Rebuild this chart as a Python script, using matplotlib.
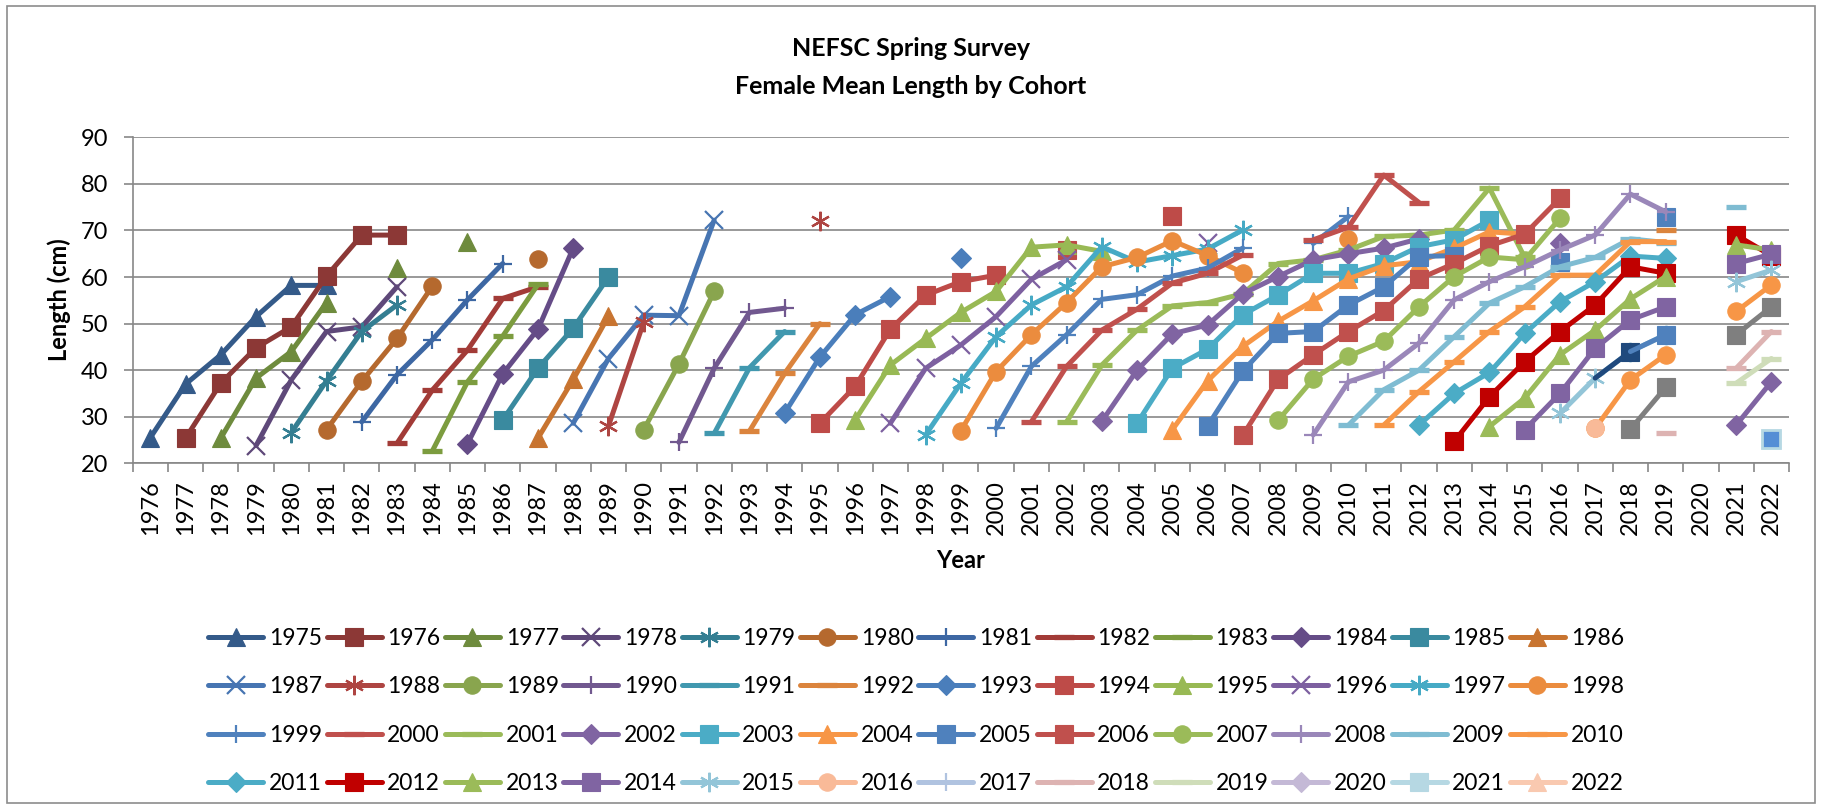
import numpy as np
import matplotlib
matplotlib.use("Agg")
import matplotlib.pyplot as plt
from matplotlib.lines import Line2D
from matplotlib.patches import Rectangle

plt.rcParams['font.family'] = ['Lato', 'DejaVu Sans']

years = list(range(1976, 2023))
cohorts = list(range(1975, 2023))

# mean length (cm) by survey year, one dict per cohort
c1975 = {1976: 25.5, 1977: 37.0, 1978: 43.3, 1979: 51.5, 1980: 58.2, 1981: 58.2}
c1976 = {1977: 25.4, 1978: 37.2, 1979: 44.8, 1980: 49.3, 1981: 60.2, 1982: 69.0, 1983: 69.0}
c1977 = {1978: 25.4, 1979: 38.3, 1980: 44.0, 1981: 54.5, 1983: 61.9, 1985: 67.6}
c1978 = {1979: 23.8, 1980: 37.9, 1981: 48.3, 1982: 49.3, 1983: 57.9}
c1979 = {1980: 26.6, 1981: 37.7, 1982: 48.3, 1983: 54.0}
c1980 = {1981: 27.2, 1982: 37.6, 1983: 46.8, 1984: 58.0, 1987: 63.9}
c1981 = {1982: 28.9, 1983: 39.0, 1984: 46.5, 1985: 55.1, 1986: 62.9}
c1982 = {1983: 24.3, 1984: 35.7, 1985: 44.3, 1986: 55.4, 1987: 57.9}
c1983 = {1984: 22.6, 1985: 37.5, 1986: 47.3, 1987: 58.4}
c1984 = {1985: 24.2, 1986: 39.2, 1987: 48.8, 1988: 66.2}
c1985 = {1986: 29.3, 1987: 40.4, 1988: 49.0, 1989: 60.0}
c1986 = {1987: 25.4, 1988: 38.0, 1989: 51.6}
c1987 = {1988: 28.6, 1989: 42.5, 1990: 51.8, 1991: 51.7, 1992: 72.2}
c1988 = {1989: 28.0, 1990: 50.3, 1995: 72.0}
c1989 = {1990: 27.2, 1991: 41.3, 1992: 56.9}
c1990 = {1991: 24.5, 1992: 40.4, 1993: 52.4, 1994: 53.3}
c1991 = {1992: 26.4, 1993: 40.5, 1994: 48.3}
c1992 = {1993: 26.9, 1994: 39.3, 1995: 50.0, 2019: 70.0}
c1993 = {1994: 30.8, 1995: 42.8, 1996: 51.9, 1997: 55.8, 1999: 64.0}
c1994 = {1995: 28.6, 1996: 36.5, 1997: 48.8, 1998: 56.1, 1999: 59.0, 2000: 60.4,
         2002: 65.8, 2005: 73.0}
c1995 = {1996: 29.3, 1997: 41.1, 1998: 46.8, 1999: 52.4, 2000: 56.9, 2001: 66.4,
         2002: 66.9, 2003: 65.5}
c1996 = {1997: 28.6, 1998: 40.4, 1999: 45.4, 2000: 51.5, 2001: 59.5, 2002: 63.7, 2006: 67.2}
c1997 = {1998: 26.1, 1999: 37.2, 2000: 47.2, 2001: 54.0, 2002: 57.9, 2003: 66.5,
         2004: 63.2, 2005: 64.6, 2006: 66.0, 2007: 70.1}
c1998 = {1999: 27.0, 2000: 39.7, 2001: 47.6, 2002: 54.5, 2003: 62.2, 2004: 64.2,
         2005: 67.8, 2006: 64.6, 2007: 60.9, 2010: 68.1}
c1999 = {2000: 27.5, 2001: 40.8, 2002: 47.6, 2003: 55.2, 2004: 56.2, 2005: 60.2,
         2006: 61.9, 2007: 66.2, 2009: 67.2, 2010: 73.0}
c2000 = {2001: 28.9, 2002: 40.8, 2003: 48.6, 2004: 53.1, 2005: 58.7, 2006: 60.8,
         2007: 64.7, 2009: 68.0, 2010: 70.7, 2011: 81.9, 2012: 76.0}
c2001 = {2002: 28.9, 2003: 41.1, 2004: 48.6, 2005: 53.8, 2006: 54.5, 2007: 56.4,
         2008: 62.9, 2009: 63.7, 2010: 65.8, 2011: 68.7, 2012: 69.0, 2013: 70.1,
         2014: 79.1, 2015: 64.2}
c2002 = {2003: 29.0, 2004: 40.0, 2005: 47.8, 2006: 49.7, 2007: 56.4, 2008: 60.1,
         2009: 63.7, 2010: 65.0, 2011: 66.2, 2012: 68.2, 2016: 67.2}
c2003 = {2004: 28.6, 2005: 40.4, 2006: 44.5, 2007: 51.9, 2008: 56.1, 2009: 60.8,
         2010: 60.8, 2011: 62.9, 2012: 66.5, 2013: 68.0, 2014: 72.2}
c2004 = {2005: 27.2, 2006: 37.7, 2007: 45.1, 2008: 50.5, 2009: 54.9, 2010: 59.6,
         2011: 62.4, 2012: 63.3, 2013: 66.2, 2014: 69.7, 2015: 69.2}
c2005 = {2006: 28.0, 2007: 39.8, 2008: 47.9, 2009: 48.3, 2010: 54.0, 2011: 57.9,
         2012: 64.4, 2013: 64.6, 2016: 63.2, 2019: 72.8}
c2006 = {2007: 26.0, 2008: 38.0, 2009: 43.3, 2010: 48.3, 2011: 52.8, 2012: 59.6,
         2013: 62.9, 2014: 66.7, 2015: 69.2, 2016: 76.9}
c2007 = {2008: 29.2, 2009: 38.1, 2010: 43.0, 2011: 46.2, 2012: 53.6, 2013: 60.1,
         2014: 64.3, 2015: 63.7, 2016: 72.6}
c2008 = {2009: 26.1, 2010: 37.5, 2011: 40.0, 2012: 45.8, 2013: 55.1, 2014: 59.0,
         2015: 62.2, 2016: 65.8, 2017: 69.0, 2018: 77.8, 2019: 74.0}
c2009 = {2010: 28.2, 2011: 35.8, 2012: 40.0, 2013: 47.2, 2014: 54.4, 2015: 57.9,
         2016: 62.2, 2017: 64.2, 2018: 68.2, 2019: 67.4, 2021: 75.1}
c2010 = {2011: 28.2, 2012: 35.4, 2013: 41.8, 2014: 48.3, 2015: 53.6, 2016: 60.4,
         2017: 60.4, 2018: 67.6, 2019: 67.6}
c2011 = {2012: 28.2, 2013: 35.0, 2014: 39.5, 2015: 47.9, 2016: 54.7, 2017: 59.0,
         2018: 64.5, 2019: 64.0}
c2012 = {2013: 24.7, 2014: 34.3, 2015: 41.8, 2016: 48.3, 2017: 54.0, 2018: 62.2,
         2019: 60.8, 2021: 69.0, 2022: 64.6}
c2013 = {2014: 27.9, 2015: 34.0, 2016: 43.3, 2017: 48.6, 2018: 55.3, 2019: 60.1,
         2021: 66.9, 2022: 65.8}
c2014 = {2015: 27.2, 2016: 35.0, 2017: 44.7, 2018: 50.8, 2019: 53.6, 2021: 62.9, 2022: 64.9}
c2015 = {2016: 30.7, 2017: 38.3, 2018: 44.0, 2019: 47.6, 2021: 59.0, 2022: 61.5}
c2016 = {2017: 27.5, 2018: 37.9, 2019: 43.3, 2021: 52.6, 2022: 58.3}
c2017 = {2018: 27.3, 2019: 36.3, 2021: 47.6, 2022: 53.6}
c2018 = {2019: 26.4, 2021: 40.4, 2022: 48.3}
c2019 = {2021: 37.2, 2022: 42.5}
c2020 = {2021: 28.2, 2022: 37.5}
c2021 = {2022: 25.2}
c2022 = {}

lengths = [c1975, c1976, c1977, c1978, c1979, c1980, c1981, c1982, c1983, c1984,
           c1985, c1986, c1987, c1988, c1989, c1990, c1991, c1992, c1993, c1994,
           c1995, c1996, c1997, c1998, c1999, c2000, c2001, c2002, c2003, c2004,
           c2005, c2006, c2007, c2008, c2009, c2010, c2011, c2012, c2013, c2014,
           c2015, c2016, c2017, c2018, c2019, c2020, c2021, c2022]

colors = ['#345A89', '#8C3836', '#6E8B3D', '#5E4879', '#347E92', '#B5692E',
          '#3D67A3', '#A23B37', '#7C9C3F', '#654C87', '#3A8A9F', '#C87430',
          '#4775B2', '#AE4542', '#89A54E', '#71588F', '#4198AF', '#DB843D',
          '#4A7EBB', '#BE4B48', '#98B954', '#7D60A0', '#46AAC5', '#EB8C3E',
          '#4F81BD', '#C0504D', '#9BBB59', '#8064A2', '#4BACC6', '#F79646',
          '#4F81BD', '#C0504D', '#9BBB59', '#9A87B9', '#7FBCD2', '#F79646',
          '#4BACC6', '#C00000', '#9BBB59', '#8064A2', '#93C5D8', '#F9BA98',
          '#B0C3E0', '#DDB3B2', '#CFDDB9', '#C4B9D6', '#B6D8E3', '#F9C9B0']

markers = ['^', 's', '^', 'x', '*', 'o', '+', '_', '_', 'D', 's', '^',
           'x', '*', 'o', '+', '_', '_', 'D', 's', '^', 'x', '*', 'o',
           '+', '_', '_', 'D', 's', '^', 's', 's', 'o', '+', '_', '_',
           'D', 's', '^', 's', '*', 'o', '+', '_', '_', 'D', 's', '^']

# cohorts drawn in the plot with a different look than their legend entry
plot_colors = {2016: '#F79646', 2017: '#7F7F7F', 2020: '#8064A2', 2021: '#558ED5'}
plot_markers = {2017: 's'}
recolored = [(2015, 2017, 2018, '#1F497D'), (2015, 2018, 2019, '#4F81BD')]


def marker_kw(m, color):
    if m == '*':
        return dict(marker=(6, 2, 0), ms=14, mew=1.6, mec=color, mfc=color)
    if m in ('x', '+'):
        return dict(marker=m, ms=12.5, mew=1.6, mec=color, mfc=color)
    if m == '_':
        return dict(marker='_', ms=15, mew=3.8, mec=color, mfc=color)
    if m == 'D':
        return dict(marker='D', ms=10, mew=0.8, mec=color, mfc=color)
    if m == '^':
        return dict(marker='^', ms=13, mew=0.8, mec=color, mfc=color)
    return dict(marker=m, ms=12.5, mew=0.8, mec=color, mfc=color)


fig = plt.figure(figsize=(18.22, 8.09), dpi=100)
fig.patches.append(Rectangle((7 / 1822, 6 / 809), 1808 / 1822, 797 / 809,
                             transform=fig.transFigure, fill=False,
                             edgecolor='#8C8C8C', lw=1.2))

ax = fig.add_axes([132.7 / 1822, 1 - 463.3 / 809, 1656.3 / 1822, 326 / 809])
x = np.arange(len(years))

for coh, vals, col, mk in zip(cohorts, lengths, colors, markers):
    y = np.array([vals.get(yr, np.nan) for yr in years])
    pc = plot_colors.get(coh, col)
    pm = plot_markers.get(coh, mk)
    ax.plot(x, y, color=pc, lw=3.6, solid_capstyle='round',
            solid_joinstyle='round', **marker_kw(pm, pc))
    for c2, y0, y1, rc in recolored:
        if c2 == coh:
            seg = [vals[y0], vals[y1]]
            ax.plot([y0 - 1976, y1 - 1976], seg, color=rc, lw=3.6,
                    solid_capstyle='round')
            ax.plot([y1 - 1976], [vals[y1]], color=rc, ls='none',
                    **marker_kw('s', rc))
    if coh == 2016:
        ax.plot([2017 - 1976], [vals[2017]], ls='none', **marker_kw('o', '#F9BA98'))
    if coh == 2021:
        ax.plot([2022 - 1976], [vals[2022]], ls='none', marker='s', ms=12.5,
                mfc='#558ED5', mec='#B6D8E3', mew=2)

ax.set_xlim(-0.5, len(years) - 0.5)
ax.set_ylim(20, 90)
ax.set_yticks(range(20, 91, 10))
ax.yaxis.grid(True, color='#878787', lw=1.2)
ax.set_axisbelow(True)
for s in ('top', 'right'):
    ax.spines[s].set_visible(False)
for s in ('left', 'bottom'):
    ax.spines[s].set_color('#878787')
    ax.spines[s].set_linewidth(1.2)
ax.tick_params(axis='y', length=6.5, color='#878787', width=1.2, pad=11,
               labelsize=17)
ax.set_xticks(np.arange(-0.5, len(years), 1))
ax.set_xticklabels([])
ax.tick_params(axis='x', which='major', length=6.5, color='#878787', width=1.2)
ax.set_xticks(x, minor=True)
ax.set_xticklabels([str(yr) for yr in years], minor=True, rotation=90,
                   fontsize=17)
ax.tick_params(axis='x', which='minor', length=0, pad=12)

fig.text(0.5, 1 - 49 / 809, 'NEFSC Spring Survey', ha='center', va='center',
         fontsize=18, fontweight='bold')
fig.text(0.5, 1 - 87 / 809, 'Female Mean Length by Cohort', ha='center',
         va='center', fontsize=18, fontweight='bold')
fig.text(59 / 1822, 1 - 300 / 809, 'Length (cm)', rotation=90, ha='center',
         va='center', fontsize=17, fontweight='bold')
fig.text(961 / 1822, 1 - 560 / 809, 'Year', ha='center', va='center',
         fontsize=17, fontweight='bold')

handles = [Line2D([], [], color=c, lw=3.6, solid_capstyle='round', **marker_kw(m, c))
           for c, m in zip(colors, markers)]
labels = [str(c) for c in cohorts]
order = [r * 12 + c for c in range(12) for r in range(4)]
fig.legend([handles[i] for i in order], [labels[i] for i in order], ncol=12,
           loc='center', bbox_to_anchor=(916 / 1822, 1 - 711 / 809),
           frameon=False, fontsize=16.5, handlelength=2.4, handletextpad=0.25,
           columnspacing=0.2, labelspacing=1.2, borderaxespad=0)

fig.savefig('out.png', dpi=100)
